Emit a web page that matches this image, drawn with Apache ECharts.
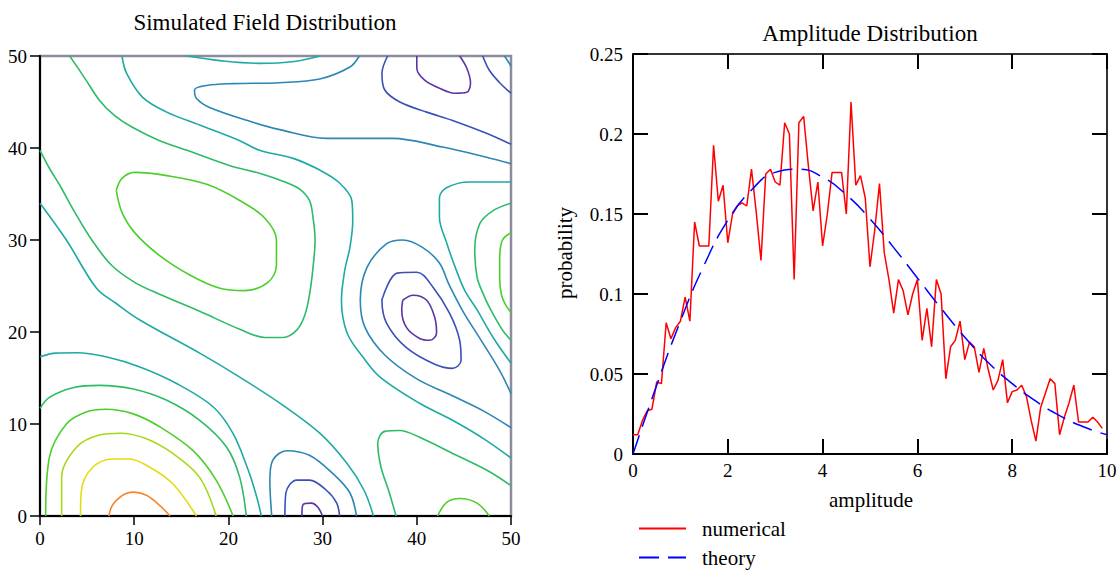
<!DOCTYPE html>
<html><head><meta charset="utf-8">
<script src="https://cdn.jsdelivr.net/npm/echarts/dist/echarts.min.js"></script>
<style>html,body{margin:0;padding:0;background:#fff}#c{width:1120px;height:571px}</style>
</head><body><div id="c"></div>
<script>
// ---------- Left chart: contour lines (data coordinates) ----------
// level colours: 0 purple (lowest) ... 8 orange (highest)
const levelColors = ['#5b34a6','#3b4fb8','#2d86b4','#1eaaa2','#2cbb68','#4ccf2a','#a8d816','#e4dc12','#f5882e'];

const P1 = [[40.0,50],[40.0,48.7],[40.8,47.4],[42.4,46.5],[44.0,45.95],[45.3,46.05],[45.7,47.1],[45.3,48.7],[44.55,50]];
const E1 = [[38.5,23.45],[39.6,24.0],[41.05,23.45],[41.9,21.6],[42.1,19.9],[41.4,19.1],[40.3,19.3],[38.9,20.5],[38.4,22.4],[38.5,23.45]];
const BR1 = [[27.8,0],[27.9,1.2],[28.8,1.4],[29.5,0.95],[30.0,0]];

const B2 = [[36.9,50],[36.3,48.1],[36.6,46.3],[38.2,45.0],[41.05,43.9],[43.8,43.0],[47.4,41.6],[50,40.4]];
const B3 = [[47.0,50],[47.7,48.45],[48.8,47.1],[50,45.95]];
const E2 = [[36.4,23.8],[37.9,26.4],[40.0,26.5],[41.7,24.9],[43.5,22.0],[44.55,19.1],[44.7,16.9],[43.8,16.05],[41.9,16.5],[38.9,18.3],[36.8,20.95],[36.3,23.45],[36.4,23.8]];
const BR2 = [[26.0,0],[26.1,2.5],[27.25,3.9],[28.6,3.9],[30.4,2.8],[31.5,1.4],[31.8,0]];

const B1 = [[33.9,50],[32.9,48.8],[29.7,47.5],[25.45,47.1],[20.5,47.0],[17.7,46.8],[16.4,46.3],[16.6,45.4],[18.0,44.4],[22.6,42.8],[25.45,42.0],[30.4,41.05],[37.4,41.05],[42.75,40.1],[47.4,39.0],[50,38.3]];
const T3 = [[49.3,50],[49.7,49.4],[50,48.9]];
const E3 = [[50,13.3],[48.8,15.8],[46.7,19.3],[44.9,22.25],[43.4,25.2],[42.4,27.5],[40.6,29.2],[38.5,30.0],[36.8,29.6],[34.7,27.0],[34.0,23.45],[34.5,20.5],[36.6,17.5],[40.0,14.9],[43.5,13.2],[47.1,11.4],[50,9.6]];
const BR3 = [[24.6,0],[24.4,3.9],[24.7,6.05],[26.2,7.1],[28.6,6.6],[31.1,4.6],[32.9,2.5],[33.6,0]];

const T1 = [[15.6,50],[19.1,49.5],[23.3,49.2],[27.0,49.4],[29.7,50]];
const T2 = [[8.7,50],[9.2,48.1],[10.9,45.5],[13.45,43.9],[16.95,42.5],[21.2,40.8],[23.3,39.75],[26.8,38.9],[29.7,37.6],[31.8,36.2],[33.1,34.3],[33.2,32.1],[32.9,29.2],[32.35,26.7],[32.0,23.45],[32.6,19.9],[34.3,17.25],[36.1,15.1],[40.3,12.25],[43.8,10.4],[47.4,8.2],[50,6.3]];
const TG = [[50,36.3],[45.6,36.3],[43.2,35.7],[42.4,34.6],[42.4,32.5],[43.2,29.6],[44.2,26.7],[45.1,24.5],[46.4,22.4],[48.1,19.4],[50,16.6]];
const TL = [[0,34.0],[2.8,30.0],[6.0,24.75],[8.1,23.1],[10.6,21.3],[16.95,17.7],[21.2,15.1],[25.7,12.1],[29.7,9.0],[32.6,5.7],[34.4,2.8],[35.4,0]];
const H3 = [[0,17.3],[1.7,17.7],[3.9,17.75],[7.0,17.3],[10.6,16.2],[14.5,14.4],[18.4,11.85],[20.5,8.95],[22.1,5.0],[23.0,2.1],[23.5,0]];

const A = [[3.15,50],[4.75,47.6],[6.3,45.2],[7.9,43.55],[9.8,42.25],[12.7,40.8],[15.6,39.75],[20.1,38.1],[23.3,37.25],[26.0,36.3],[27.6,35.5],[28.6,34.3],[28.95,32.7],[29.2,30.0],[28.95,26.7],[28.6,24.0],[28.1,21.8],[27.25,20.2],[25.8,19.4],[23.9,19.4],[21.2,20.3],[16.95,22.25],[12.7,24.1],[10.05,25.4],[7.6,27.25],[5.5,30.0],[3.7,33.0],[2.1,35.95],[1.0,37.8],[0,39.75]];
const G3 = [[50,34.0],[48.1,33.2],[46.7,31.8],[46.15,28.9],[46.4,25.95],[46.9,24.5],[47.7,22.7],[49.1,20.2],[50,19.1]];
const GV = [[50,3.3],[47.4,5.0],[43.8,6.8],[40.3,8.55],[38.2,9.3],[36.6,9.2],[35.85,7.9],[36.2,5.3],[37.0,2.8],[37.8,0]];
const H4 = [[0,11.7],[1.0,12.9],[3.5,13.95],[6.3,14.2],[9.9,13.8],[13.4,12.6],[16.95,10.4],[19.8,7.5],[21.2,4.2],[21.9,0]];

const G = [[8.1,35.4],[8.7,36.7],[10.05,37.35],[13.45,37.0],[17.7,36.05],[21.2,34.3],[23.85,32.4],[25.1,30.0],[25.1,27.25],[24.2,25.4],[21.7,24.5],[19.1,24.75],[15.9,26.2],[12.7,28.3],[10.05,30.8],[8.7,33.0],[8.1,35.4]];
const G2 = [[50,30.8],[49.1,30.0],[48.8,28.1],[48.8,25.7],[49.0,24.0],[49.4,23.0],[50,22.1]];
const ARC = [[42.2,0],[43.2,1.5],[44.55,1.9],[46.4,1.4],[47.7,0]];
const H5 = [[0.6,0],[1.0,6.4],[2.8,10.0],[4.9,11.3],[7.0,11.6],[9.9,11.1],[12.7,9.7],[16.25,7.1],[18.7,3.9],[20.5,0]];

const H6 = [[2.3,0],[2.3,4.2],[3.9,7.5],[6.3,8.8],[8.5,9.0],[11.3,8.4],[14.1,6.8],[16.95,4.2],[18.7,0]];
const H7 = [[4.3,0],[4.4,2.8],[5.6,5.3],[7.75,6.2],[9.5,6.2],[11.65,5.3],[14.1,3.5],[16.6,0]];
const H8 = [[7.3,0],[7.6,1.0],[8.1,1.7],[9.0,2.4],[9.9,2.6],[11.3,2.25],[12.7,1.16],[13.8,0]];

const contourLines = [
  [0,P1],[0,E1],[0,BR1],
  [1,B2],[1,B3],[1,E2],[1,BR2],
  [2,B1],[2,T3],[2,E3],[2,BR3],
  [3,T1],[3,T2],[3,TG],[3,TL],[3,H3],
  [4,A],[4,G3],[4,GV],[4,H4],
  [5,G],[5,G2],[5,ARC],[5,H5],
  [6,H6],[7,H7],[8,H8]
];

// ---------- Right chart: amplitude distribution ----------
const numericalStep = 0.1;   // bin spacing of the numerical histogram
const numericalProbability = [
 0.012,0.012,0.021,0.027,0.028,0.045,0.044,0.082,0.072,0.079,
 0.083,0.098,0.083,0.145,0.130,0.130,0.130,0.193,0.158,0.168,
 0.132,0.150,0.155,0.157,0.155,0.178,0.151,0.121,0.175,0.178,
 0.170,0.168,0.207,0.200,0.109,0.207,0.211,0.180,0.152,0.170,
 0.130,0.150,0.176,0.176,0.176,0.150,0.220,0.168,0.174,0.160,
 0.117,0.140,0.169,0.126,0.109,0.088,0.109,0.102,0.087,0.100,
 0.109,0.071,0.091,0.067,0.109,0.100,0.047,0.067,0.071,0.083,
 0.059,0.070,0.067,0.051,0.066,0.052,0.040,0.046,0.059,0.032,
 0.039,0.040,0.043,0.036,0.021,0.008,0.029,0.038,0.047,0.044,
 0.012,0.023,0.032,0.043,0.020,0.020,0.020,0.023,0.020,0.016
];
const theoryAmplitude   = [0,0.5,1,1.5,2,2.5,3,3.5,4,4.5,5,5.5,6,6.5,7,7.5,8,8.5,9,9.5,10];
const theoryProbability = [0,0.043,0.083,0.118,0.146,0.165,0.176,0.178,0.173,0.162,0.147,0.129,0.110,0.091,0.073,0.057,0.044,0.033,0.024,0.017,0.012];

const FONT = '"Liberation Serif","Times New Roman",serif';

const chart = echarts.init(document.getElementById('c'), null, {renderer:'svg'});

const series = contourLines.map(([lvl, pts]) => ({
  type:'line', xAxisIndex:0, yAxisIndex:0, data:pts, symbol:'none', smooth:0.35,
  silent:true, lineStyle:{color:levelColors[lvl], width:1.6}, z:2
}));
series.push({
  name:'numerical', type:'line', xAxisIndex:1, yAxisIndex:1, symbol:'none',
  data: numericalProbability.map((p,i)=>[i*numericalStep, p]),
  lineStyle:{color:'#ff0000', width:1.5}, itemStyle:{color:'#ff0000'}, z:3
});
series.push({
  name:'theory', type:'line', xAxisIndex:1, yAxisIndex:1, symbol:'none', smooth:true,
  data: theoryAmplitude.map((a,i)=>[a, theoryProbability[i]]),
  lineStyle:{color:'#0000ff', width:1.5, type:[20,9]}, itemStyle:{color:'#0000ff'}, z:4
});

const lbl = {fontFamily:FONT, fontSize:19, color:'#000'};
const legendBase = {
  orient:'vertical', left:633, itemWidth:47, itemHeight:14, selectedMode:false,
  itemStyle:{color:'rgba(0,0,0,0)', borderWidth:0, opacity:0},
  textStyle:{fontFamily:FONT, fontSize:21, color:'#000', padding:[0,0,0,11]}
};

chart.setOption({
  animation:false,
  backgroundColor:'#fff',
  grid:[
    {left:40, top:56, width:471, height:460, show:true, borderColor:'#8c8c9c', borderWidth:2.5, backgroundColor:'transparent'},
    {left:633, top:54, width:474, height:400, show:false}
  ],
  xAxis:[
    {gridIndex:0, type:'value', min:0, max:50, interval:10,
     axisLine:{lineStyle:{color:'#000', width:2}}, axisTick:{length:9, lineStyle:{color:'#000', width:1.5}},
     axisLabel:Object.assign({margin:13}, lbl), splitLine:{show:false}},
    {gridIndex:1, type:'value', min:0, max:10, interval:2,
     axisLine:{onZero:false, lineStyle:{color:'#000', width:2}}, axisTick:{inside:true, length:15, lineStyle:{color:'#000', width:2}},
     axisLabel:Object.assign({margin:7}, lbl), splitLine:{show:false}},
    {gridIndex:1, type:'value', position:'top', min:0, max:10, interval:2,
     axisLine:{onZero:false, lineStyle:{color:'#333', width:2}}, axisTick:{inside:true, length:15, lineStyle:{color:'#000', width:2}},
     axisLabel:{show:false}, splitLine:{show:false}}
  ],
  yAxis:[
    {gridIndex:0, type:'value', min:0, max:50, interval:10,
     axisLine:{lineStyle:{color:'#000', width:2}}, axisTick:{length:10, lineStyle:{color:'#000', width:1.5}},
     axisLabel:Object.assign({margin:13}, lbl), splitLine:{show:false}},
    {gridIndex:1, type:'value', min:0, max:0.25, interval:0.05,
     axisLine:{onZero:false, lineStyle:{color:'#000', width:2}}, axisTick:{inside:true, length:15, lineStyle:{color:'#000', width:2}},
     axisLabel:Object.assign({margin:10}, lbl), splitLine:{show:false}},
    {gridIndex:1, type:'value', position:'right', min:0, max:0.25, interval:0.05,
     axisLine:{onZero:false, lineStyle:{color:'#333', width:2}}, axisTick:{inside:true, length:15, lineStyle:{color:'#000', width:2}},
     axisLabel:{show:false}, splitLine:{show:false}}
  ],
  legend:[
    Object.assign({data:['numerical'], top:513}, legendBase),
    Object.assign({data:['theory'], top:542}, legendBase)
  ],
  graphic:[
    {type:'text', x:265, y:22, style:{text:'Simulated Field Distribution', font:'23px '+FONT, fill:'#000', textAlign:'center', textVerticalAlign:'middle'}},
    {type:'text', x:870, y:33, style:{text:'Amplitude Distribution', font:'23px '+FONT, fill:'#000', textAlign:'center', textVerticalAlign:'middle'}},
    {type:'text', x:565, y:253, rotation:Math.PI/2, style:{text:'probability', font:'21px '+FONT, fill:'#000', textAlign:'center', textVerticalAlign:'middle'}},
    {type:'text', x:871, y:500, style:{text:'amplitude', font:'21px '+FONT, fill:'#000', textAlign:'center', textVerticalAlign:'middle'}}
  ],
  series: series
});
</script></body></html>
